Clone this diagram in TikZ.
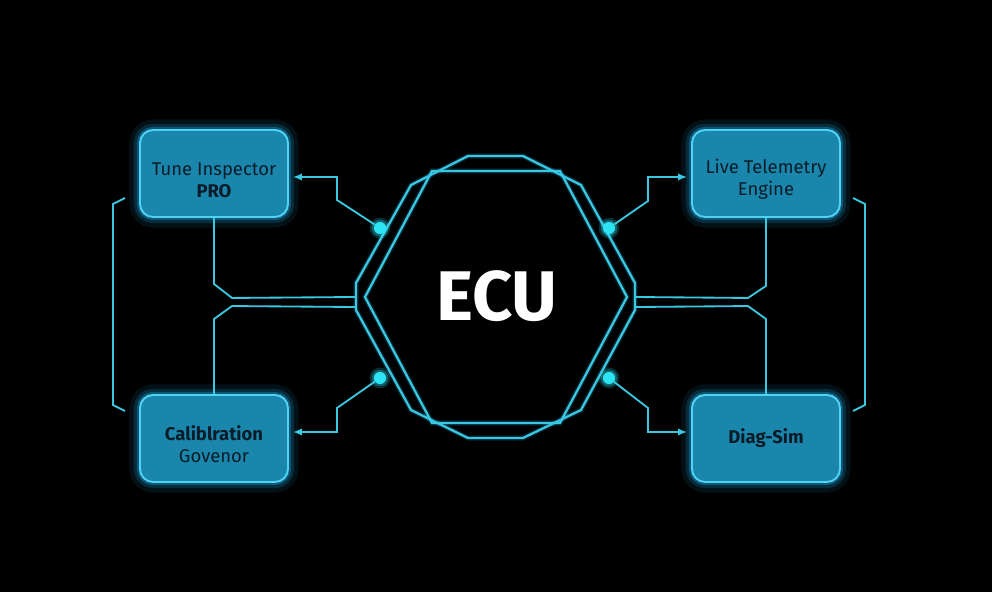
\documentclass[tikz,border=0pt]{standalone}
\usepackage{fontspec}
\setmainfont{Fira Sans}
\usetikzlibrary{arrows.meta,positioning,calc}

\definecolor{boxfill}{RGB}{27,134,172}
\definecolor{boxline}{RGB}{80,210,245}
\definecolor{glowc}{RGB}{30,170,230}
\definecolor{wirec}{RGB}{58,200,225}
\definecolor{dotc}{RGB}{45,228,245}
\definecolor{inkc}{RGB}{10,28,40}

% pushes a two-line label a little below the middle of its box
\newcommand{\boxstrut}{\rule{0pt}{14.5pt}}

\begin{document}
\begin{tikzpicture}[
    x=0.02cm, y=-0.02cm,
    font=\fontsize{10.5}{12.5}\selectfont,
    box/.style={draw=boxline, fill=boxfill, line width=1.1pt, rounded corners=0.26cm,
      minimum width=2.96cm, minimum height=1.74cm, align=center, text=inkc,
      preaction={draw=glowc, line width=12pt, opacity=0.10},
      preaction={draw=glowc, line width=7pt, opacity=0.18},
      preaction={draw=glowc, line width=3.5pt, opacity=0.35}},
    wire/.style={draw=wirec, line width=1.05pt},
    arr/.style={wire, -{Latex[length=1.8mm, width=1.5mm]}, shorten >=0.8mm},
    dot/.style={circle, fill=dotc, minimum size=0.24cm, inner sep=0pt,
      preaction={fill=dotc, opacity=0.2, draw=dotc, line width=5pt},
      preaction={fill=dotc, opacity=0.3, draw=dotc, line width=2.5pt}},
    hexline/.style={draw=wirec, line width=1.3pt,
      preaction={draw=glowc, line width=3pt, opacity=0.2}}
  ]
  \fill[black] (0,0) rectangle (992,592);

  % ECU core
  \draw[hexline] (468,156) -- (523,156) -- (581,185) -- (635,283) -- (635,310)
    -- (581,410) -- (523,438) -- (468,438) -- (411,410) -- (356,310)
    -- (356,283) -- (411,185) -- cycle;
  \draw[hexline] (432,171) -- (560,171) -- (627,297) -- (560,423)
    -- (432,423) -- (365,297) -- cycle;
  \coordinate (wA) at (356,297);
  \coordinate (wB) at (356,307);
  \coordinate (eA) at (635,297);
  \coordinate (eB) at (635,307);
  \node[text=white, font=\fontsize{40}{42}\selectfont\bfseries] (ecu) at (497,296) {ECU};

  % tools
  \node[box] (tune) at (214,173.5) {\boxstrut Tune Inspector\\\textbf{PRO}};
  \node[box] (calib) at (214,438.5) {\boxstrut\textbf{Caliblration}\\Govenor};
  \node[box] (live) at (766,173.5) {\boxstrut Live Telemetry\\Engine};
  \node[box] (diag) at (766,438.5) {\textbf{Diag-Sim}};

  % ports
  \node[dot] (pTL) at (380,228) {};
  \node[dot] (pTR) at (609,228) {};
  \node[dot] (pBL) at (380,378) {};
  \node[dot] (pBR) at (609,378) {};

  \draw[arr] (pTL) -- ++(-43,-28) |- ($(tune.east)+(0,3.5)$);
  \draw[arr] (pBL) -- ++(-43,30) |- ($(calib.east)+(0,-6.5)$);
  \draw[arr] (pTR) -- ++(39,-27) |- ($(live.west)+(0,3.5)$);
  \draw[arr] (pBR) -- ++(39,30) |- ($(diag.west)+(0,-6.5)$);

  % buses
  \draw[wire] (tune.south) -- ++(0,66) -- ++(18,14) -- (wA);
  \draw[wire] (calib.north) -- ++(0,-75) -- ++(18,-13) -- (wB);
  \draw[wire] (live.south) -- ++(0,68) -- ++(-18,12) -- (eA);
  \draw[wire] (diag.north) -- ++(0,-75) -- ++(-18,-13) -- (eB);

  % side rails
  \draw[wire] (125,198) -- (113,204) -- (113,405) -- (125,411);
  \draw[wire] (853,198) -- (865,204) -- (865,405) -- (853,411);
\end{tikzpicture}
\end{document}
